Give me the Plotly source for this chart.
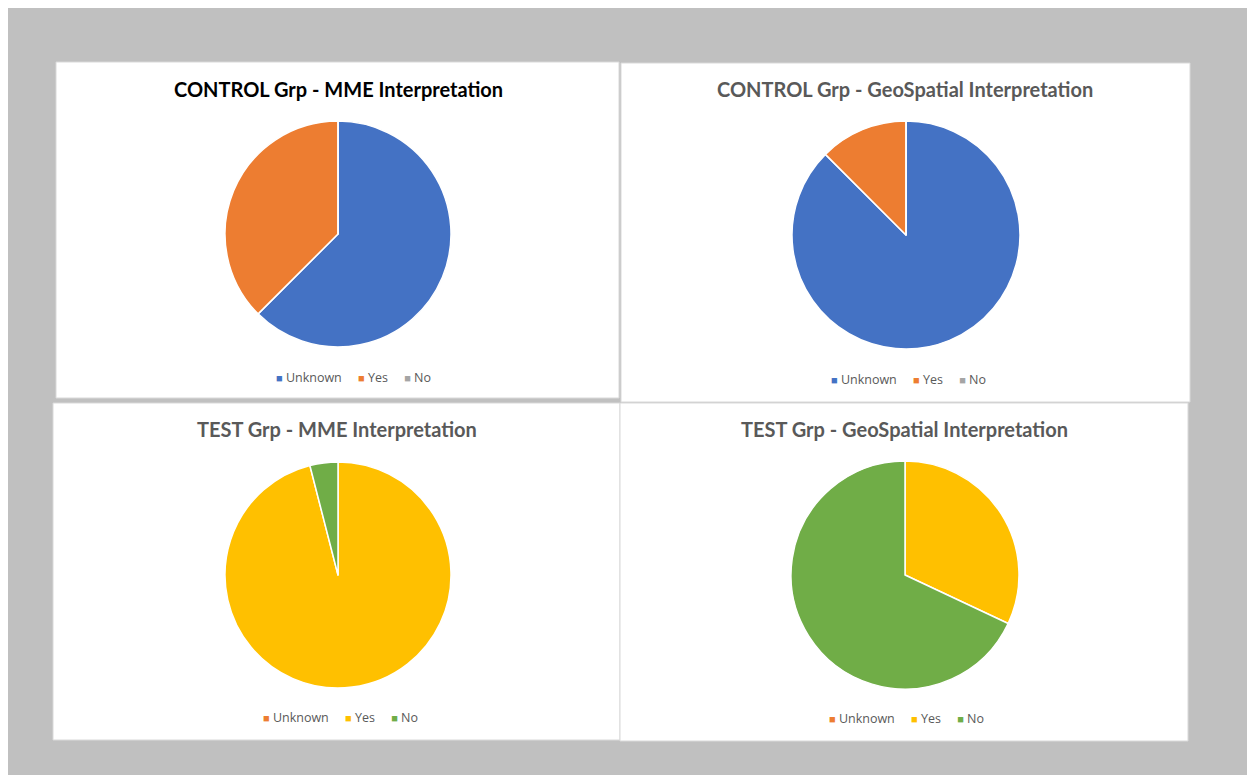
import plotly.graph_objects as go

# the page body adds an 8px white margin; the figure fills the rest
OFF = 8
W, H = 1255 - OFF, 775 - OFF

labels = ["Unknown", "Yes", "No"]

titles = [
    "CONTROL Grp - MME Interpretation",
    "CONTROL Grp - GeoSpatial Interpretation",
    "TEST Grp - MME Interpretation",
    "TEST Grp - GeoSpatial Interpretation",
]
control_mme = [5, 3, 0]
control_geo = [7, 1, 0]
test_mme = [0, 24, 1]
test_geo = [0, 8, 17]

control_colors = ["#4472C4", "#ED7D31", "#A5A5A5"]
test_colors = ["#ED7D31", "#FFC000", "#70AD47"]

values = [control_mme, control_geo, test_mme, test_geo]
colors = [control_colors, control_colors, test_colors, test_colors]
title_colors = ["#000000", "#595959", "#595959", "#595959"]

# layout geometry (page pixels)
panels = [(56, 62, 619, 398), (621, 63, 1190, 402), (53, 403, 620, 740), (620, 403, 1188, 741)]
centers = [(338, 234, 113), (906, 235, 114), (338, 575, 113), (905, 575, 114)]
title_y = [89, 89, 429, 429]
title_x = [338, 905, 337, 904]
legend_pos = [(353, 377), (908, 379), (340, 717), (907, 718)]


def fx(x):
    return (x - OFF) / W


def fy(y):
    return 1 - (y - OFF) / H


fig = go.Figure()
shapes = []
annotations = []

for i in range(4):
    x0, y0, x1, y1 = panels[i]
    shapes.append(dict(type="rect", xref="paper", yref="paper",
                       x0=fx(x0), x1=fx(x1), y0=fy(y1), y1=fy(y0),
                       fillcolor="white", line=dict(color="#d9d9d9", width=1), layer="below"))
    cx, cy, r = centers[i]
    fig.add_trace(go.Pie(
        labels=labels, values=values[i], sort=False, direction="clockwise", rotation=0,
        marker=dict(colors=colors[i], line=dict(color="white", width=1.5)),
        textinfo="none", hoverinfo="label+value+percent", showlegend=False,
        domain=dict(x=[fx(cx - r), fx(cx + r)], y=[fy(cy + r), fy(cy - r)]),
        name=titles[i],
    ))
    annotations.append(dict(text="<b>" + titles[i] + "</b>", xref="paper", yref="paper",
                            x=fx(title_x[i]), y=fy(title_y[i]), xanchor="center", yanchor="middle",
                            showarrow=False, font=dict(family="Lato", size=20, color=title_colors[i])))
    parts = []
    for lab, col in zip(labels, colors[i]):
        parts.append("<span style='color:%s;font-size:11px'>■</span> %s" % (col, lab))
    leg_text = "&nbsp;&nbsp;&nbsp;&nbsp;&nbsp;".join(parts)
    lx, ly = legend_pos[i]
    annotations.append(dict(text=leg_text, xref="paper", yref="paper",
                            x=fx(lx), y=fy(ly), xanchor="center", yanchor="middle",
                            showarrow=False, font=dict(family="Open Sans", size=12.5, color="#595959")))

fig.update_layout(
    width=W, height=H,
    margin=dict(l=0, r=0, t=0, b=0),
    paper_bgcolor="#c0c0c0",
    plot_bgcolor="#c0c0c0",
    shapes=shapes,
    annotations=annotations,
    showlegend=False,
)

fig.write_html("out.html")
